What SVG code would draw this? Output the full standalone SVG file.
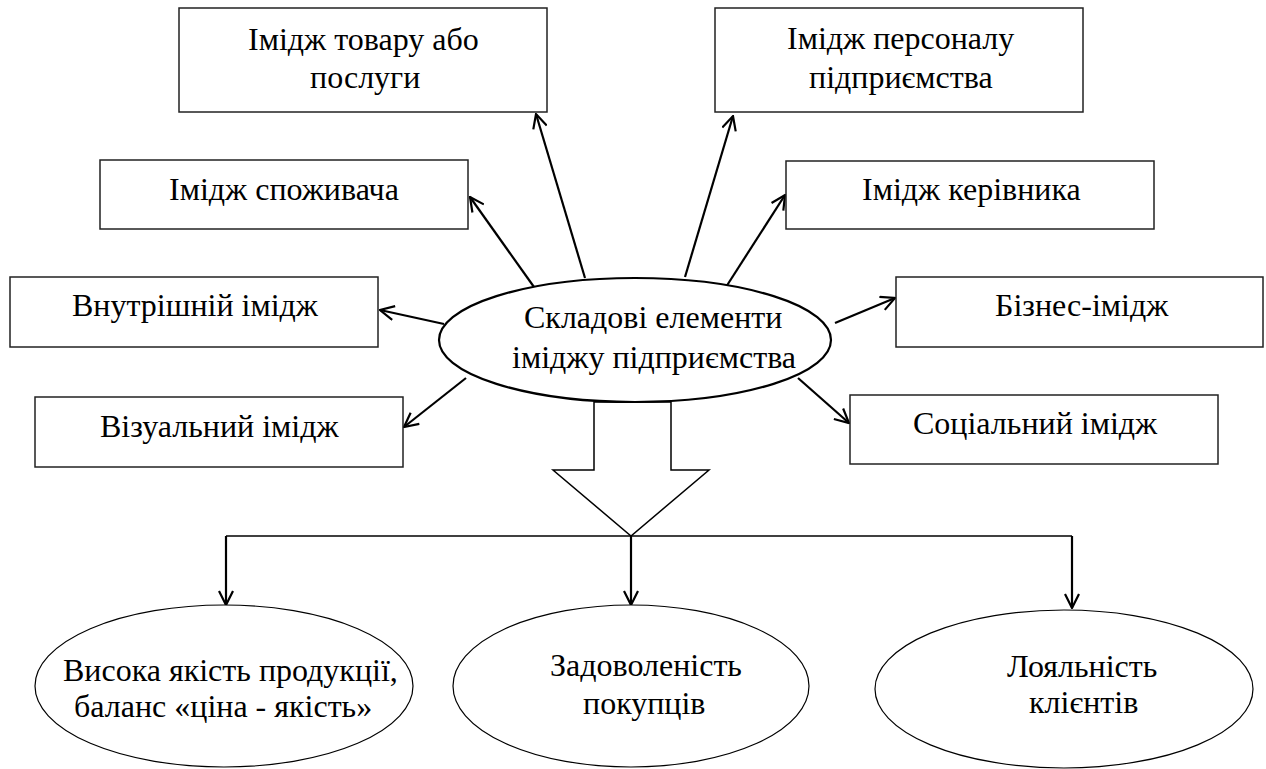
<svg xmlns="http://www.w3.org/2000/svg" width="1266" height="769" viewBox="0 0 1266 769">
<defs>
  <marker id="ah" viewBox="0 0 16 16" refX="15" refY="8" markerWidth="16" markerHeight="16" markerUnits="userSpaceOnUse" orient="auto">
    <path d="M1,1 L15,8 L1,15" fill="none" stroke="#000" stroke-width="2.2"/>
  </marker>
</defs>
<rect width="1266" height="769" fill="#fff"/>

<g id="connectors" stroke="#000" stroke-width="2.2" fill="none">
  <line x1="585" y1="278" x2="536" y2="114" marker-end="url(#ah)"/>
  <line x1="534" y1="287" x2="470" y2="197" marker-end="url(#ah)"/>
  <line x1="444" y1="324" x2="380" y2="310" marker-end="url(#ah)"/>
  <line x1="466" y1="378" x2="404" y2="427" marker-end="url(#ah)"/>
  <line x1="685" y1="277" x2="733" y2="116" marker-end="url(#ah)"/>
  <line x1="726" y1="287" x2="785" y2="195" marker-end="url(#ah)"/>
  <line x1="835" y1="323" x2="895" y2="298" marker-end="url(#ah)"/>
  <line x1="798" y1="378" x2="849" y2="423" marker-end="url(#ah)"/>
  <polygon points="594,402 594,470 553,470 631,536 709,470 671,470 671,402" fill="#fff" stroke-width="1.5"/>
  <polyline points="226,536 1072,536" stroke-width="1.5"/>
  <line x1="226" y1="536" x2="226" y2="605" marker-end="url(#ah)"/>
  <line x1="631" y1="536" x2="631" y2="605" marker-end="url(#ah)"/>
  <line x1="1072" y1="536" x2="1072" y2="608" marker-end="url(#ah)"/>
</g>

<g id="center">
  <ellipse cx="635" cy="340" rx="196" ry="62" fill="#fff" stroke="#000" stroke-width="2.2"/>
  <text x="524" y="328" font-family="Liberation Serif" font-size="32">Складові елементи</text>
  <text x="512" y="368" font-family="Liberation Serif" font-size="32">іміджу підприємства</text>
</g>

<g id="n-tovar">
  <rect x="179" y="8" width="368" height="104" fill="#fff" stroke="#222" stroke-width="1.5"/>
  <text x="248" y="50" font-family="Liberation Serif" font-size="32">Імідж товару або</text>
  <text x="310" y="88" font-family="Liberation Serif" font-size="32">послуги</text>
</g>
<g id="n-spozhyvach">
  <rect x="100" y="160" width="368" height="69" fill="#fff" stroke="#222" stroke-width="1.5"/>
  <text x="169" y="200" font-family="Liberation Serif" font-size="32">Імідж споживача</text>
</g>
<g id="n-vnutr">
  <rect x="10" y="277" width="368" height="70" fill="#fff" stroke="#222" stroke-width="1.5"/>
  <text x="72" y="316" font-family="Liberation Serif" font-size="32">Внутрішній імідж</text>
</g>
<g id="n-vizual">
  <rect x="35" y="397" width="368" height="70" fill="#fff" stroke="#222" stroke-width="1.5"/>
  <text x="100" y="437" font-family="Liberation Serif" font-size="32">Візуальний імідж</text>
</g>
<g id="n-personal">
  <rect x="715" y="8" width="368" height="104" fill="#fff" stroke="#222" stroke-width="1.5"/>
  <text x="787" y="49" font-family="Liberation Serif" font-size="32">Імідж персоналу</text>
  <text x="809" y="88" font-family="Liberation Serif" font-size="32">підприємства</text>
</g>
<g id="n-kerivnyk">
  <rect x="786" y="161" width="368" height="68" fill="#fff" stroke="#222" stroke-width="1.5"/>
  <text x="862" y="200" font-family="Liberation Serif" font-size="32">Імідж керівника</text>
</g>
<g id="n-biznes">
  <rect x="896" y="277" width="367" height="70" fill="#fff" stroke="#222" stroke-width="1.5"/>
  <text x="995" y="316" font-family="Liberation Serif" font-size="32">Бізнес-імідж</text>
</g>
<g id="n-social">
  <rect x="850" y="395" width="368" height="69" fill="#fff" stroke="#222" stroke-width="1.5"/>
  <text x="913" y="434" font-family="Liberation Serif" font-size="32">Соціальний імідж</text>
</g>

<g id="r-quality">
  <ellipse cx="224" cy="686" rx="189" ry="81" fill="#fff" stroke="#000" stroke-width="1.2"/>
  <text x="63" y="681" font-family="Liberation Serif" font-size="32">Висока якість продукції,</text>
  <text x="74" y="717" font-family="Liberation Serif" font-size="32">баланс «ціна - якість»</text>
</g>
<g id="r-satisfaction">
  <ellipse cx="631" cy="686" rx="178" ry="81" fill="#fff" stroke="#000" stroke-width="1.2"/>
  <text x="550" y="676" font-family="Liberation Serif" font-size="32">Задоволеність</text>
  <text x="583" y="714" font-family="Liberation Serif" font-size="32">покупців</text>
</g>
<g id="r-loyalty">
  <ellipse cx="1064" cy="689" rx="189" ry="79" fill="#fff" stroke="#000" stroke-width="1.2"/>
  <text x="1007" y="677" font-family="Liberation Serif" font-size="32">Лояльність</text>
  <text x="1029" y="713" font-family="Liberation Serif" font-size="32">клієнтів</text>
</g>
</svg>
